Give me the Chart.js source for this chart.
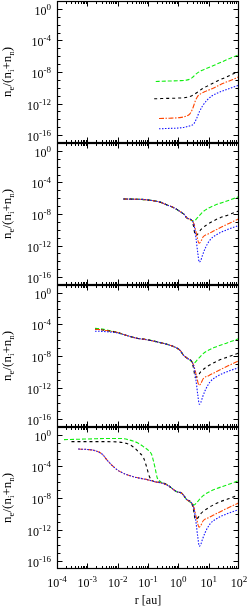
<!DOCTYPE html>
<html><head><meta charset="utf-8">
<script src="https://cdn.jsdelivr.net/npm/chart.js@4.4.0/dist/chart.umd.min.js"></script>
<style>
html,body{margin:0;padding:0;background:#fff;width:249px;height:608px;overflow:hidden}
canvas{position:absolute;left:0}
</style></head><body>
<canvas id="c0" width="249" height="145" style="top:0px"></canvas>
<canvas id="c1" width="249" height="145" style="top:142px"></canvas>
<canvas id="c2" width="249" height="145" style="top:284px"></canvas>
<canvas id="c3" width="249" height="182" style="top:426px"></canvas>
<script>
// ---- axis ranges / ticks ----
const xMin = 1e-4, xMax = 1e2;
const yMin = 1e-17, yMax = 1e1;
const xTickExps = [-4, -3, -2, -1, 0, 1, 2];
const yTickExps = [0, -4, -8, -12, -16];
const xTitle = 'r [au]';

// ---- panel 1 ----
const p1GreenR = [0.18, 0.4, 1.0, 2.0, 2.8, 4.0, 5.6, 7.9, 16, 32, 63, 100];
const p1GreenV = [6.3e-10, 7.1e-10, 7.9e-10, 1.0e-9, 1.8e-9, 6.3e-9, 1.4e-8, 2.5e-8, 7.9e-8, 2.5e-7, 7.9e-7, 1.6e-6];
const p1BlackR = [0.16, 0.4, 1.0, 2.0, 3.2, 4.5, 6.3, 10, 20, 40, 100];
const p1BlackV = [4.0e-12, 4.5e-12, 5.0e-12, 6.3e-12, 1.3e-11, 3.2e-11, 7.9e-11, 2.0e-10, 7.9e-10, 2.5e-9, 1.3e-8];
const p1OrangeR = [0.23, 0.5, 1.0, 1.8, 2.4, 3.0, 3.6, 4.5, 5.6, 7.9, 14, 32, 63, 100];
const p1OrangeV = [1.3e-14, 1.4e-14, 1.6e-14, 2.5e-14, 5.0e-14, 2.5e-13, 2.0e-12, 1.0e-11, 1.8e-11, 3.5e-11, 8.9e-11, 4.0e-10, 1.1e-9, 2.5e-9];
const p1BlueR = [0.23, 0.5, 1.0, 1.6, 2.5, 3.2, 4.0, 5.0, 6.3, 8.7, 12.6, 18.6, 40, 100];
const p1BlueV = [6.3e-16, 7.1e-16, 7.9e-16, 1.0e-15, 1.6e-15, 2.5e-15, 1.3e-14, 1.0e-13, 5.0e-13, 2.5e-12, 8.9e-12, 2.0e-11, 6.3e-11, 2.2e-10];

// ---- outer tails shared by panels 2-4 ----
const tailGreenR = [3.3, 4.2, 5.2, 6.6, 10, 16, 40, 100];
const tailGreenV = [1.3e-9, 3.2e-9, 7.9e-9, 2.0e-8, 5.6e-8, 1.3e-7, 4.5e-7, 1.6e-6];
const tailBlackR = [3.2, 3.6, 4.2, 5.6, 8.5, 20, 45, 100];
const tailBlackV = [2.5e-10, 2.0e-11, 2.5e-11, 1.1e-10, 4.0e-10, 2.5e-9, 7.9e-9, 2.5e-8];
const tailOrangeR = [3.3, 4.0, 4.8, 5.5, 6.6, 10, 14, 32, 100];
const tailOrangeV = [5.0e-10, 2.5e-11, 2.0e-12, 3.2e-12, 1.3e-11, 3.2e-11, 6.3e-11, 3.2e-10, 2.5e-9];
const tailBlueR = [3.3, 3.8, 4.4, 4.9, 5.5, 6.3, 7.6, 11, 18.6, 40, 100];
const tailBlueV = [4.0e-10, 1.0e-11, 1.0e-13, 7.9e-15, 1.3e-14, 6.3e-14, 4.0e-13, 5.0e-12, 2.5e-11, 1.0e-10, 3.5e-10];

// ---- panel 2 (inner part, all series) ----
const p2HeadR = [0.0155, 0.032, 0.063, 0.117, 0.25, 0.42, 0.71, 1.15, 1.6, 1.9, 2.75];
const p2HeadV = [7.9e-7, 7.6e-7, 7.1e-7, 5.6e-7, 3.2e-7, 1.4e-7, 6.3e-8, 2.0e-8, 7.9e-9, 3.2e-9, 1.6e-9];

// ---- panel 3 (inner part) ----
const p3HeadR = [0.0018, 0.0032, 0.0056, 0.0093, 0.02, 0.043, 0.1, 0.195, 0.4, 0.69, 1.15, 1.45, 2.0, 2.75];
const p3GreenHeadV = [3.2e-5, 2.6e-5, 1.6e-5, 1.0e-5, 4.0e-6, 1.8e-6, 1.1e-6, 6.3e-7, 3.2e-7, 1.6e-7, 5.0e-8, 1.4e-8, 5.0e-9, 2.0e-9];
const p3BlackHeadV = [2.5e-5, 2.0e-5, 1.4e-5, 1.0e-5, 4.0e-6, 1.8e-6, 1.1e-6, 6.3e-7, 3.2e-7, 1.6e-7, 5.0e-8, 1.4e-8, 5.0e-9, 2.0e-9];
const p3OrangeHeadV = [2.5e-5, 2.0e-5, 1.4e-5, 1.0e-5, 4.0e-6, 1.8e-6, 1.1e-6, 6.3e-7, 3.2e-7, 1.6e-7, 5.0e-8, 1.4e-8, 5.0e-9, 2.0e-9];
const p3BlueHeadV = [1.4e-5, 1.3e-5, 1.1e-5, 8.9e-6, 4.0e-6, 1.8e-6, 1.1e-6, 6.3e-7, 3.2e-7, 1.6e-7, 5.0e-8, 1.4e-8, 5.0e-9, 2.0e-9];

// ---- panel 4 (inner part) ----
const p4GreenHeadR = [0.00017, 0.0005, 0.0016, 0.005, 0.012, 0.025, 0.045, 0.071, 0.112, 0.132, 0.151, 0.174, 0.2, 0.25, 0.42, 0.89, 1.3, 1.9, 2.75];
const p4GreenHeadV = [0.25, 0.28, 0.32, 0.35, 0.35, 0.22, 0.1, 0.032, 7.9e-3, 3.2e-3, 5.0e-4, 5.0e-5, 4.0e-6, 1.3e-6, 5.0e-7, 6.3e-8, 4.0e-8, 6.3e-9, 2.2e-9];
const p4BlackHeadR = [0.0003, 0.001, 0.0032, 0.01, 0.02, 0.032, 0.05, 0.071, 0.089, 0.112, 0.151, 0.25, 0.42, 0.89, 1.3, 1.9, 2.75];
const p4BlackHeadV = [0.14, 0.14, 0.14, 0.126, 0.079, 0.032, 6.3e-3, 1.3e-3, 1.0e-4, 5.0e-6, 1.3e-6, 1.0e-6, 5.0e-7, 6.3e-8, 4.0e-8, 6.3e-9, 2.2e-9];
const p4InnerHeadR = [0.0005, 0.001, 0.0018, 0.0032, 0.0045, 0.0071, 0.012, 0.033, 0.1, 0.151, 0.42, 0.89, 1.3, 1.9, 2.75];
const p4InnerHeadV = [0.016, 0.014, 0.01, 3.2e-3, 6.3e-4, 1.0e-4, 2.2e-5, 5.0e-6, 2.0e-6, 1.3e-6, 4.5e-7, 6.3e-8, 4.0e-8, 6.3e-9, 2.2e-9];

// ---- styles ----
const GREEN = '#11ee11', BLACK = '#000000', ORANGE = '#ff4500', BLUE = '#1515ff';
const SERIF = '"Liberation Serif", "DejaVu Serif", serif';

function pts(r, v) { return r.map((x, i) => ({ x: x, y: v[i] })); }
function series(label, r, v, color, dash, order) {
  return { label, data: pts(r, v), borderColor: color, borderWidth: 1.1, borderDash: dash,
           pointRadius: 0, fill: false, cubicInterpolationMode: 'monotone', order };
}

const panels = [
  { green: [p1GreenR, p1GreenV], black: [p1BlackR, p1BlackV], orange: [p1OrangeR, p1OrangeV], blue: [p1BlueR, p1BlueV] },
  { green: [p2HeadR.concat(tailGreenR), p2HeadV.concat(tailGreenV)],
    black: [p2HeadR.concat(tailBlackR), p2HeadV.concat(tailBlackV)],
    orange: [p2HeadR.concat(tailOrangeR), p2HeadV.concat(tailOrangeV)],
    blue: [p2HeadR.concat(tailBlueR), p2HeadV.concat(tailBlueV)] },
  { green: [p3HeadR.concat(tailGreenR), p3GreenHeadV.concat(tailGreenV)],
    black: [p3HeadR.concat(tailBlackR), p3BlackHeadV.concat(tailBlackV)],
    orange: [p3HeadR.concat(tailOrangeR), p3OrangeHeadV.concat(tailOrangeV)],
    blue: [p3HeadR.concat(tailBlueR), p3BlueHeadV.concat(tailBlueV)] },
  { green: [p4GreenHeadR.concat(tailGreenR), p4GreenHeadV.concat(tailGreenV)],
    black: [p4BlackHeadR.concat(tailBlackR), p4BlackHeadV.concat(tailBlackV)],
    orange: [p4InnerHeadR.concat(tailOrangeR), p4InnerHeadV.concat(tailOrangeV)],
    blue: [p4InnerHeadR.concat(tailBlueR), p4InnerHeadV.concat(tailBlueV)] }
];

const BASE_FONT = '12px ' + SERIF;
const EXP_FONT = '9px ' + SERIF;

function drawSci(ctx, exp, x, yBase, align) {
  ctx.font = BASE_FONT; const wb = ctx.measureText('10').width;
  ctx.font = EXP_FONT; const we = ctx.measureText(String(exp)).width;
  const left = align === 'right' ? x - wb - we : x - (wb + we) / 2;
  ctx.textAlign = 'left'; ctx.textBaseline = 'alphabetic';
  ctx.font = BASE_FONT; ctx.fillText('10', left, yBase);
  ctx.font = EXP_FONT; ctx.fillText(String(exp), left + wb, yBase - 5);
}

const axesPlugin = {
  id: 'gpAxes',
  afterDatasetsDraw(chart, args, opts) {
    const { ctx, chartArea: a, scales: { x, y } } = chart;
    const L = Math.round(a.left) + 0.5, R = Math.round(a.right) - 0.5;
    const T = Math.round(a.top) + 0.5, B = Math.round(a.bottom) - 0.5;
    ctx.save();
    ctx.strokeStyle = '#000'; ctx.fillStyle = '#000'; ctx.lineWidth = 1;
    ctx.setLineDash([]);
    ctx.beginPath();
    // x ticks (bottom + top)
    for (let e = -4; e < 2; e++) {
      for (let k = 1; k <= 9; k++) {
        const v = k * Math.pow(10, e);
        if (v <= xMin || v >= xMax) continue;
        const px = Math.round(x.getPixelForValue(v)) + 0.5;
        const len = k === 1 ? 5 : 2.5;
        ctx.moveTo(px, B); ctx.lineTo(px, B - len);
        ctx.moveTo(px, T); ctx.lineTo(px, T + len);
      }
    }
    // y ticks (left + right)
    for (let e = -16; e <= 0; e++) {
      const py = Math.round(y.getPixelForValue(Math.pow(10, e))) + 0.5;
      const len = (e % 4 === 0) ? 5 : 3;
      ctx.moveTo(L, py); ctx.lineTo(L + len, py);
      ctx.moveTo(R, py); ctx.lineTo(R - len, py);
    }
    ctx.stroke();
    ctx.lineWidth = 1.2;
    ctx.strokeRect(L, T, R - L, B - T);
    // y tick labels
    yTickExps.forEach(e => {
      const py = y.getPixelForValue(Math.pow(10, e));
      drawSci(ctx, e, 51, py + 6, 'right');
    });
    // y title
    const cy = (a.top + a.bottom) / 2;
    const segs = [['n', 0], ['e', 1], ['/(n', 0], ['i', 1], ['+n', 0], ['n', 1], [')', 0]];
    const MF = '13px ' + SERIF, SF = '9px ' + SERIF;
    let total = 0;
    segs.forEach(s => { ctx.font = s[1] ? SF : MF; total += ctx.measureText(s[0]).width; });
    ctx.translate(11, cy);
    ctx.rotate(-Math.PI / 2);
    let cx = -total / 2;
    ctx.textAlign = 'left'; ctx.textBaseline = 'alphabetic';
    segs.forEach(s => {
      ctx.font = s[1] ? SF : MF;
      ctx.fillText(s[0], cx, s[1] ? 3 : 0);
      cx += ctx.measureText(s[0]).width;
    });
    ctx.restore();
    if (opts.xLabels) {
      ctx.save(); ctx.fillStyle = '#000';
      xTickExps.forEach(e => {
        const px = x.getPixelForValue(Math.pow(10, e));
        drawSci(ctx, e, px, a.bottom + 18, 'center');
      });
      ctx.font = '12px ' + SERIF; ctx.textAlign = 'center'; ctx.textBaseline = 'alphabetic';
      ctx.fillText(xTitle, (a.left + a.right) / 2, a.bottom + 35);
      ctx.restore();
    }
  }
};

panels.forEach((p, i) => {
  const last = i === 3;
  new Chart(document.getElementById('c' + i), {
    type: 'line',
    data: { datasets: [
      series('green', p.green[0], p.green[1], GREEN, [4, 2], 4),
      series('black', p.black[0], p.black[1], BLACK, [3, 3], 3),
      series('orange', p.orange[0], p.orange[1], ORANGE, [5, 1.5, 1.5, 1.5], 2),
      series('blue', p.blue[0], p.blue[1], BLUE, [1.5, 1.5], 1)
    ] },
    options: {
      responsive: false, animation: false, devicePixelRatio: 1,
      layout: { padding: { left: 57, right: 10, top: 1, bottom: last ? 182 - 143 : 2 } },
      plugins: { legend: { display: false }, tooltip: { enabled: false }, title: { display: false },
                 gpAxes: { xLabels: last } },
      scales: {
        x: { type: 'logarithmic', min: xMin, max: xMax, display: false },
        y: { type: 'logarithmic', min: yMin, max: yMax, display: false }
      },
      elements: { line: { tension: 0 } }
    },
    plugins: [axesPlugin]
  });
});
</script>
</body></html>
